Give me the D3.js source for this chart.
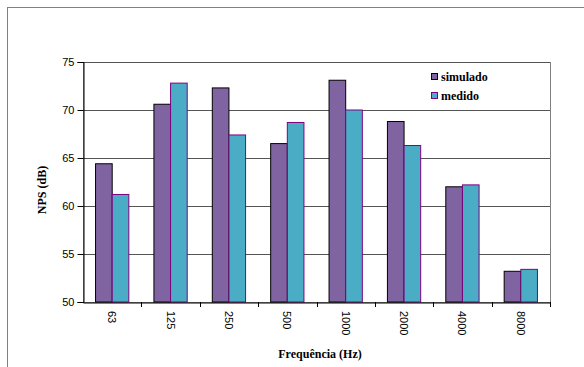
<!DOCTYPE html>
<html>
<head>
<meta charset="utf-8">
<script src="https://cdn.jsdelivr.net/npm/d3@7"></script>
<style>
  html, body { margin: 0; padding: 0; background: #fff; }
  svg { display: block; }
  .serif { font-family: "Liberation Serif", "Times New Roman", serif; font-weight: bold; font-size: 12px; }
  .sans { font-family: "Liberation Sans", Arial, sans-serif; font-size: 11px; }
</style>
</head>
<body>
<svg id="chart" width="584" height="367"></svg>
<script>
// Frequency bands (Hz) and sound pressure levels (dB)
const categories = ["63", "125", "250", "500", "1000", "2000", "4000", "8000"];
const simulado = [64.4, 70.6, 72.3, 66.5, 73.1, 68.8, 62.0, 53.2];
const medido   = [61.2, 72.8, 67.4, 68.7, 70.0, 66.3, 62.2, 53.4];
const seriesNames = ["simulado", "medido"];
const yTicks = [50, 55, 60, 65, 70, 75];

const svg = d3.select("#chart");
const plot = { left: 83, top: 62, right: 550, bottom: 302 };

// outer chart frame (only top/left edges fall inside the view)
svg.append("rect")
  .attr("x", 7.5).attr("y", 7.5)
  .attr("width", 600).attr("height", 400)
  .attr("fill", "none").attr("stroke", "#808080").attr("stroke-width", 1);

const x = d3.scaleBand().domain(categories).range([plot.left, plot.right]);
const y = d3.scaleLinear().domain([50, 75]).range([plot.bottom, plot.top]);
const groupW = x.bandwidth() * 0.57;
const xs = d3.scaleBand().domain(seriesNames).range([0, groupW]);

// plot area border
svg.append("rect")
  .attr("x", plot.left + 0.5).attr("y", plot.top + 0.5)
  .attr("width", plot.right - plot.left).attr("height", plot.bottom - plot.top)
  .attr("fill", "none").attr("stroke", "#808080");

// gridlines
svg.append("g").selectAll("line")
  .data(yTicks.filter(t => t > 50))
  .join("line")
  .attr("x1", plot.left).attr("x2", plot.right)
  .attr("y1", d => Math.round(y(d)) + 0.5).attr("y2", d => Math.round(y(d)) + 0.5)
  .attr("stroke", "#555").attr("stroke-width", 1);

// bars
const data = categories.map((c, i) => ({ c, vals: [simulado[i], medido[i]] }));
const fills = { simulado: "#8064a2", medido: "#4bacc6" };
const strokes = { simulado: "#000", medido: "#800080" };

const groups = svg.append("g").selectAll("g")
  .data(data).join("g")
  .attr("transform", d => `translate(${x(d.c) + (x.bandwidth() - groupW) / 2},0)`);

groups.selectAll("rect")
  .data(d => seriesNames.map((s, k) => ({ s, v: d.vals[k] })))
  .join("rect")
  .attr("x", d => xs(d.s))
  .attr("y", d => y(d.v))
  .attr("width", xs.bandwidth())
  .attr("height", d => y(50) - y(d.v))
  .attr("fill", d => fills[d.s])
  .attr("stroke", d => strokes[d.s])
  .attr("stroke-width", 1);

// y axis
const yAxis = d3.axisLeft(y).tickValues(yTicks).tickSize(6).tickPadding(3);
const gy = svg.append("g").attr("transform", `translate(${plot.left + 0.5},0)`).call(yAxis);
gy.attr("font-family", null).attr("font-size", null);
gy.select(".domain").attr("stroke", "#000");
gy.selectAll(".tick line").attr("stroke", "#000");
gy.selectAll("text").attr("class", "sans").attr("fill", "#000");

// x axis with ticks between categories
const xAxis = d3.axisBottom(x).tickSize(0).tickFormat("");
const gx = svg.append("g").attr("transform", `translate(0,${plot.bottom + 0.5})`).call(xAxis);
gx.select(".domain").attr("stroke", "#000");
svg.append("g").selectAll("line")
  .data(categories)
  .join("line")
  .attr("x1", (d, i) => Math.round(plot.left + x.step() * (i + 1)) + 0.5)
  .attr("x2", (d, i) => Math.round(plot.left + x.step() * (i + 1)) + 0.5)
  .attr("y1", plot.bottom).attr("y2", plot.bottom + 5)
  .attr("stroke", "#000");

// rotated category labels
svg.append("g").selectAll("text")
  .data(categories).join("text")
  .attr("class", "sans")
  .attr("transform", d => `translate(${x(d) + x.bandwidth() / 2 - 4},${plot.bottom + 9}) rotate(90)`)
  .attr("text-anchor", "start")
  .text(d => d);

// axis titles
svg.append("text")
  .attr("class", "serif")
  .attr("x", 320).attr("y", 358)
  .attr("text-anchor", "middle")
  .text("Frequência (Hz)");

svg.append("text")
  .attr("class", "serif")
  .attr("transform", "translate(46,190) rotate(-90)")
  .attr("text-anchor", "middle")
  .text("NPS (dB)");

// legend
const legend = svg.append("g").selectAll("g")
  .data(seriesNames).join("g")
  .attr("transform", (d, i) => `translate(431,${73 + i * 19})`);
legend.append("rect")
  .attr("x", 0.5).attr("y", 0.5).attr("width", 6).attr("height", 6)
  .attr("fill", d => fills[d]).attr("stroke", d => strokes[d]);
legend.append("text")
  .attr("class", "serif")
  .attr("x", 10).attr("y", 7.5)
  .text(d => d);
</script>
</body>
</html>
